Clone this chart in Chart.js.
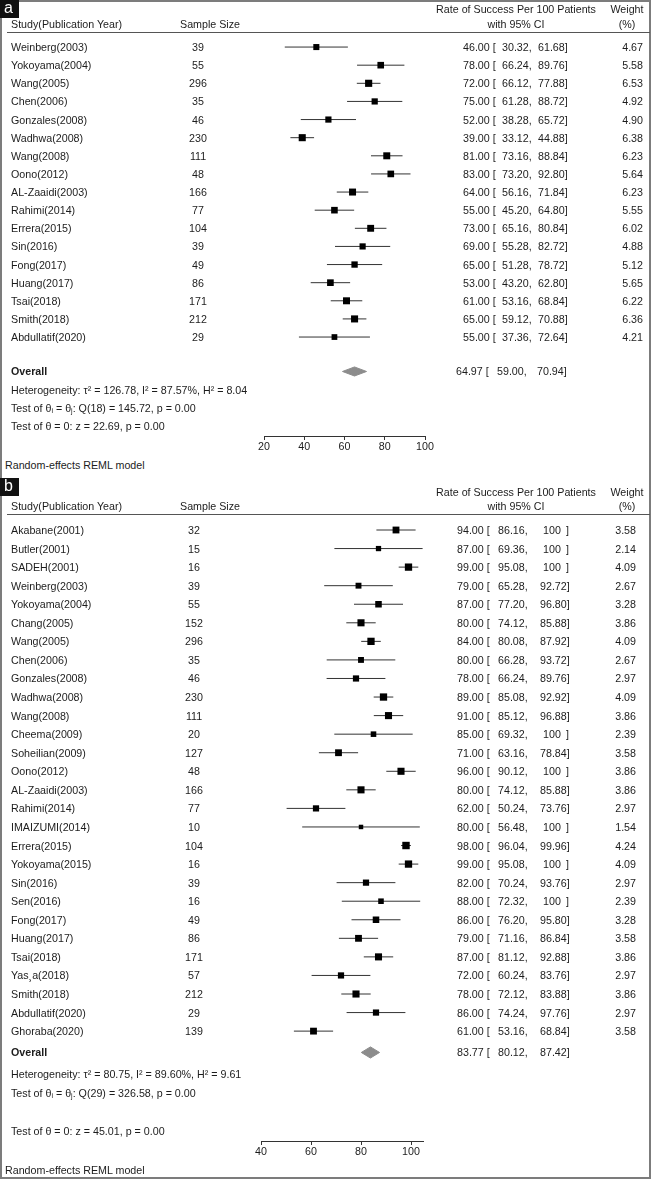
<!DOCTYPE html>
<html>
<head>
<meta charset="utf-8">
<script src="https://cdn.jsdelivr.net/npm/chart.js@4.4.0/dist/chart.umd.min.js"></script>
<style>
  html, body { margin: 0; padding: 0; background: #fff; }
  #page { position: relative; width: 655px; height: 1179px; overflow: hidden;
    font-family: "Liberation Sans", Arial, sans-serif; font-size: 10.7px; color: #1c1c1c; }
  #page canvas { position: absolute; left: 0; }
  .frame { position: absolute; left: 0; top: 0; width: 651px; height: 1179px;
    border: 2px solid #7c7c7c; box-sizing: border-box; }
  .t { position: absolute; white-space: pre; line-height: 1; transform: translateY(-50%); }
  .c { transform: translate(-50%, -50%); }
  .r { transform: translate(-100%, -50%); }
  .rule { position: absolute; left: 7px; width: 643px; height: 1px; background: #555; }
  .tag { position: absolute; left: 0; width: 19px; height: 18px; background: #111; color: #fff;
    font-size: 16px; line-height: 16px; text-indent: 4px; }
  sub { font-size: 7px; vertical-align: -1px; }
</style>
</head>
<body>
<div id="page">
  <div class="frame"></div>
  <canvas id="chartA"></canvas>
  <canvas id="chartB"></canvas>
</div>
<script>
// ---- panel a data ----
const studiesA = ['Weinberg(2003)', 'Yokoyama(2004)', 'Wang(2005)', 'Chen(2006)', 'Gonzales(2008)',
  'Wadhwa(2008)', 'Wang(2008)', 'Oono(2012)', 'AL-Zaaidi(2003)', 'Rahimi(2014)', 'Errera(2015)',
  'Sin(2016)', 'Fong(2017)', 'Huang(2017)', 'Tsai(2018)', 'Smith(2018)', 'Abdullatif(2020)'];
const sizesA = [39, 55, 296, 35, 46, 230, 111, 48, 166, 77, 104, 39, 49, 86, 171, 212, 29];
const ratesA = [46, 78, 72, 75, 52, 39, 81, 83, 64, 55, 73, 69, 65, 53, 61, 65, 55];
const lowA = [30.32, 66.24, 66.12, 61.28, 38.28, 33.12, 73.16, 73.20, 56.16, 45.20, 65.16, 55.28, 51.28, 43.20, 53.16, 59.12, 37.36];
const highA = [61.68, 89.76, 77.88, 88.72, 65.72, 44.88, 88.84, 92.80, 71.84, 64.80, 80.84, 82.72, 78.72, 62.80, 68.84, 70.88, 72.64];
const weightsA = [4.67, 5.58, 6.53, 4.92, 4.90, 6.38, 6.23, 5.64, 6.23, 5.55, 6.02, 4.88, 5.12, 5.65, 6.22, 6.36, 4.21];
const overallA = [64.97, 59.00, 70.94];
const ticksA = [20, 40, 60, 80, 100];

// ---- panel b data ----
const studiesB = ['Akabane(2001)', 'Butler(2001)', 'SADEH(2001)', 'Weinberg(2003)', 'Yokoyama(2004)',
  'Chang(2005)', 'Wang(2005)', 'Chen(2006)', 'Gonzales(2008)', 'Wadhwa(2008)', 'Wang(2008)',
  'Cheema(2009)', 'Soheilian(2009)', 'Oono(2012)', 'AL-Zaaidi(2003)', 'Rahimi(2014)', 'IMAIZUMI(2014)',
  'Errera(2015)', 'Yokoyama(2015)', 'Sin(2016)', 'Sen(2016)', 'Fong(2017)', 'Huang(2017)',
  'Tsai(2018)', 'Yas\u00b8a(2018)', 'Smith(2018)', 'Abdullatif(2020)', 'Ghoraba(2020)'];
const sizesB = [32, 15, 16, 39, 55, 152, 296, 35, 46, 230, 111, 20, 127, 48, 166, 77, 10, 104, 16, 39, 16, 49, 86, 171, 57, 212, 29, 139];
const ratesB = [94, 87, 99, 79, 87, 80, 84, 80, 78, 89, 91, 85, 71, 96, 80, 62, 80, 98, 99, 82, 88, 86, 79, 87, 72, 78, 86, 61];
const lowB = [86.16, 69.36, 95.08, 65.28, 77.20, 74.12, 80.08, 66.28, 66.24, 85.08, 85.12, 69.32, 63.16, 90.12,
  74.12, 50.24, 56.48, 96.04, 95.08, 70.24, 72.32, 76.20, 71.16, 81.12, 60.24, 72.12, 74.24, 53.16];
const highB = [100, 100, 100, 92.72, 96.80, 85.88, 87.92, 93.72, 89.76, 92.92, 96.88, 100, 78.84, 100,
  85.88, 73.76, 100, 99.96, 100, 93.76, 100, 95.80, 86.84, 92.88, 83.76, 83.88, 97.76, 68.84];
// where each CI line ends on the plot (lines run past 100 where the table is capped)
const highLineB = [101.84, 104.64, 102.92, 92.72, 96.80, 85.88, 87.92, 93.72, 89.76, 92.92, 96.88, 100.68, 78.84, 101.88,
  85.88, 73.76, 103.52, 99.96, 102.92, 93.76, 103.68, 95.80, 86.84, 92.88, 83.76, 83.88, 97.76, 68.84];
const weightsB = [3.58, 2.14, 4.09, 2.67, 3.28, 3.86, 4.09, 2.67, 2.97, 4.09, 3.86, 2.39, 3.58, 3.86,
  3.86, 2.97, 1.54, 4.24, 4.09, 2.97, 2.39, 3.28, 3.58, 3.86, 2.97, 3.86, 2.97, 3.58];
const overallB = [83.77, 80.12, 87.42];
const ticksB = [40, 60, 80, 100];

const page = document.getElementById('page');

function addText(html, x, y, cls) {
  const d = document.createElement('div');
  d.className = 't' + (cls ? ' ' + cls : '');
  d.style.left = x + 'px';
  d.style.top = y + 'px';
  d.innerHTML = html;
  page.appendChild(d);
  return d;
}

function fmt(v) {
  return v === 100 ? '100' : v.toFixed(2);
}

function makeForest(id, top, height, p) {
  const canvas = document.getElementById(id);
  canvas.width = 655;
  canvas.height = height;
  canvas.style.top = top + 'px';

  const ciLine = [];
  p.low.forEach((lo, i) => {
    ciLine.push({ x: lo, y: i }, { x: p.lineHigh[i], y: i }, { x: null, y: null });
  });
  const boxes = p.rates.map((r, i) => ({ x: r, y: i }));
  const [est, lo, hi] = p.overall;
  const row = p.overallRow;
  const diamond = [
    { x: lo, y: row }, { x: est, y: row - p.diamondH }, { x: hi, y: row },
    { x: est, y: row + p.diamondH }, { x: lo, y: row }
  ];

  return new Chart(canvas, {
    type: 'scatter',
    data: {
      datasets: [
        {
          data: boxes, pointStyle: 'rect', backgroundColor: '#000', borderWidth: 0,
          pointRadius: p.weights.map(w => Math.sqrt(w) * p.boxScale), clip: false
        },
        {
          data: ciLine, showLine: true, spanGaps: false, pointRadius: 0,
          borderColor: '#333', borderWidth: 1, clip: false
        },
        {
          data: diamond, showLine: true, pointRadius: 0, fill: 'shape',
          borderColor: '#8c8c8c', backgroundColor: '#8c8c8c', borderWidth: 1, clip: false
        }
      ]
    },
    options: {
      responsive: false,
      animation: false,
      devicePixelRatio: 1,
      layout: { padding: p.padding },
      plugins: { legend: { display: false }, tooltip: { enabled: false } },
      scales: {
        x: {
          type: 'linear', min: p.xMin, max: p.xMax,
          afterBuildTicks: axis => { axis.ticks = p.ticks.map(v => ({ value: v })); },
          afterFit: axis => { axis.height = 20; },
          grid: { drawOnChartArea: false, drawTicks: true, tickLength: 4, tickColor: '#333', color: '#333' },
          border: { display: true, color: '#333', width: 1 },
          ticks: {
            padding: 1, color: '#1c1c1c', maxRotation: 0, autoSkip: false,
            font: { family: '"Liberation Sans", Arial, sans-serif', size: 10.7 }
          }
        },
        y: { type: 'linear', display: false, reverse: true, min: p.yMin, max: p.yMax }
      }
    }
  });
}

// ---- panel a ----
const topA = 0;
const chartA = makeForest('chartA', topA, 456, {
  low: lowA, lineHigh: highA, rates: ratesA, weights: weightsA, overall: overallA,
  overallRow: 17.9, diamondH: 0.25, boxScale: 1.98, ticks: ticksA,
  xMin: 20, xMax: 100, yMin: -0.5, yMax: 21.46,
  padding: { left: 264, right: 230, top: 38, bottom: 0 }
});

// ---- panel b ----
const topB = 476;
const chartB = makeForest('chartB', topB, 685, {
  low: lowB, lineHigh: highLineB, rates: ratesB, weights: weightsB, overall: overallB,
  overallRow: 28.15, diamondH: 0.3, boxScale: 2.55, ticks: ticksB,
  xMin: 40, xMax: 105, yMin: -0.6466, yMax: 32.92,
  padding: { left: 261, right: 231.5, top: 42, bottom: 0 }
});

// ---- table text, placed on the rows of each chart's y scale ----
function tableText(chart, top, studies, sizes, rates, low, high, weights, col) {
  const ys = chart.scales.y;
  studies.forEach((name, i) => {
    const y = top + ys.getPixelForValue(i);
    addText(name, 11, y);
    addText(String(sizes[i]), col.size, y, 'c');
    addText(rates[i].toFixed(2) + ' [', col.est, y);
    addText(fmt(low[i]) + ',', col.lo, y);
    if (high[i] === 100) {
      addText('100', col.hi + 3, y);
      addText(']', col.hi + 26, y);
    } else {
      addText(fmt(high[i]) + ']', col.hi, y);
    }
    addText(weights[i].toFixed(2), col.weight, y, 'r');
  });
}

tableText(chartA, topA, studiesA, sizesA, ratesA, lowA, highA, weightsA,
  { size: 198, est: 463, lo: 502, hi: 538, weight: 643 });
tableText(chartB, topB, studiesB, sizesB, ratesB, lowB, highB, weightsB,
  { size: 194, est: 457, lo: 498, hi: 540, weight: 636 });

// ---- headers ----
function header(y1, y2, ruleY) {
  addText('Study(Publication Year)', 11, y2);
  addText('Sample Size', 180, y2);
  addText('Rate of Success Per 100 Patients', 516, y1, 'c');
  addText('with 95% CI', 516, y2, 'c');
  addText('Weight', 627, y1, 'c');
  addText('(%)', 627, y2, 'c');
  const rule = document.createElement('div');
  rule.className = 'rule';
  rule.style.top = ruleY + 'px';
  page.appendChild(rule);
}
header(9, 24, 32);
header(492, 506, 514);

// ---- overall rows and summary statistics ----
const yOA = topA + chartA.scales.y.getPixelForValue(17.9);
addText('<b>Overall</b>', 11, yOA);
addText(overallA[0].toFixed(2) + ' [', 456, yOA);
addText(overallA[1].toFixed(2) + ',', 497, yOA);
addText(overallA[2].toFixed(2) + ']', 537, yOA);
addText('Heterogeneity: \u03c4\u00b2 = 126.78, I\u00b2 = 87.57%, H\u00b2 = 8.04', 11, 390);
addText('Test of \u03b8<sub>i</sub> = \u03b8<sub>j</sub>: Q(18) = 145.72, p = 0.00', 11, 408);
addText('Test of \u03b8 = 0: z = 22.69, p = 0.00', 11, 426);
addText('Random-effects REML model', 5, 465);

const yOB = topB + chartB.scales.y.getPixelForValue(28.15);
addText('<b>Overall</b>', 11, yOB);
addText(overallB[0].toFixed(2) + ' [', 457, yOB);
addText(overallB[1].toFixed(2) + ',', 498, yOB);
addText(overallB[2].toFixed(2) + ']', 540, yOB);
addText('Heterogeneity: \u03c4\u00b2 = 80.75, I\u00b2 = 89.60%, H\u00b2 = 9.61', 11, 1074);
addText('Test of \u03b8<sub>i</sub> = \u03b8<sub>j</sub>: Q(29) = 326.58, p = 0.00', 11, 1093);
addText('Test of \u03b8 = 0: z = 45.01, p = 0.00', 11, 1131);
addText('Random-effects REML model', 5, 1170);

// ---- panel tags ----
[['a', 0], ['b', 478]].forEach(([txt, y]) => {
  const d = document.createElement('div');
  d.className = 'tag';
  d.style.top = y + 'px';
  d.textContent = txt;
  page.appendChild(d);
});
</script>
</body>
</html>
